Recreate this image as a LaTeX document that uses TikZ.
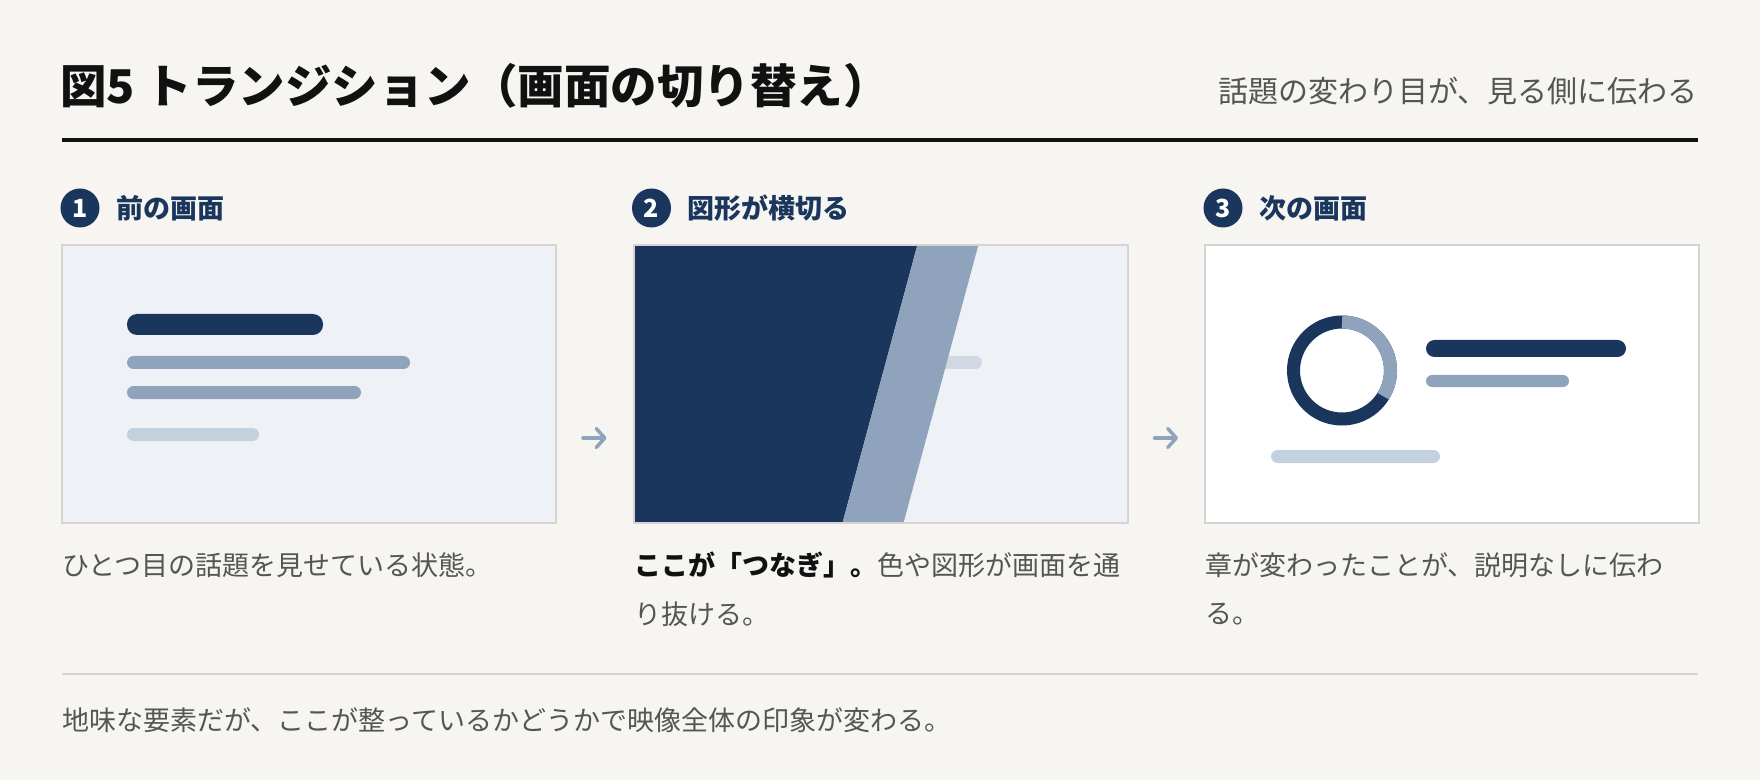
\documentclass[tikz,border=0pt]{standalone}
\usepackage{fontspec}
\setmainfont{Noto Sans CJK JP}
\usetikzlibrary{arrows.meta}
\definecolor{bg}{HTML}{F6F5F1}
\definecolor{navy}{HTML}{1B365D}
\definecolor{steel}{HTML}{8FA3BD}
\definecolor{pale}{HTML}{C3D1DF}
\definecolor{faint}{HTML}{CFD8E3}
\definecolor{panel}{HTML}{EEF1F6}
\definecolor{frame}{HTML}{D5D4CF}
\definecolor{ink}{HTML}{111111}
\definecolor{mute}{HTML}{555555}
\tikzset{
  screen/.style={draw=frame, line width=2pt, minimum width=494pt, minimum height=278pt, inner sep=0pt, outer sep=0pt, fill=panel},
  badge/.style={circle, fill=navy, minimum size=39pt, inner sep=0pt, text=white, font=\bfseries\fontsize{25}{25}\selectfont},
  headtext/.style={anchor=west, inner sep=0pt, text=navy, font=\bfseries\fontsize{27}{27}\selectfont},
  captext/.style={anchor=west, inner sep=0pt, text=mute, font=\fontsize{27}{27}\selectfont},
  flowarrow/.style={steel, line width=3.5pt, line cap=round, -{Straight Barb[length=8.5pt,width=19pt,round]}},
}
\begin{document}
\begin{tikzpicture}[x=1pt,y=1pt]
\useasboundingbox (0,0) rectangle (1760,780);
\fill[bg] (0,0) rectangle (1760,780);

% title and subtitle
\node[anchor=west, inner sep=0pt, text=ink, font=\bfseries\fontsize{46.5}{46.5}\selectfont] (title) at (60,694) {図5 トランジション（画面の切り替え）};
\node[anchor=east, inner sep=0pt, text=mute, font=\fontsize{30}{30}\selectfont] (sub) at (1698,688.5) {話題の変わり目が、見る側に伝わる};
\draw[ink, line width=4pt] (62,640.3) -- (1698,640.3);

% step headers
\node[badge] (b1) at (80,572) {1};
\node[headtext] (h1) at (116,572) {前の画面};
\node[badge] (b2) at (651.5,572) {2};
\node[headtext] (h2) at (687.5,572) {図形が横切る};
\node[badge] (b3) at (1223,572) {3};
\node[headtext] (h3) at (1259,572) {次の画面};

% screens
\node[screen] (s1) at (309,396) {};
\node[screen] (s2) at (880.5,396) {};
\node[screen, fill=white] (s3) at (1452,396) {};

% screen 1 content
\fill[navy, rounded corners=10pt] (127,445) rectangle (323,466);
\fill[steel, rounded corners=6.5pt] (127,411) rectangle (410,424);
\fill[steel, rounded corners=6.5pt] (127,381) rectangle (361,394);
\fill[pale, rounded corners=6.5pt] (127,339) rectangle (259,352);

% screen 2 content
\begin{scope}
  \clip (s2.south west) rectangle (s2.north east);
  \fill[faint, rounded corners=6.5pt] (699,411) rectangle (982,424);
  \fill[navy] (600,540) -- (918.7,540) -- (840.6,250) -- (600,250) -- cycle;
  \fill[steel] (918.7,540) -- (979.7,540) -- (901.6,250) -- (840.6,250) -- cycle;
\end{scope}
\draw[frame, line width=2pt] (s2.south west) rectangle (s2.north east);

% screen 3 content
\coordinate (dc) at (1342,409.5);
\draw[navy, line width=13pt] (dc) circle[radius=48.5];
\draw[steel, line width=13pt] ([shift={(90:48.5)}]dc) arc[start angle=90, end angle=-32, radius=48.5];
\fill[navy, rounded corners=8.5pt] (1426,423) rectangle (1626,440);
\fill[steel, rounded corners=6pt] (1426,393) rectangle (1569,405);
\fill[pale, rounded corners=6.5pt] (1271,317) rectangle (1440,330);

% arrows between screens
\draw[flowarrow] ([xshift=27pt,yshift=-54pt]s1.east) -- ([xshift=-27pt,yshift=-54pt]s2.west);
\draw[flowarrow] ([xshift=27pt,yshift=-54pt]s2.east) -- ([xshift=-27pt,yshift=-54pt]s3.west);

% captions
\node[captext] (c1) at (62,215) {ひとつ目の話題を見せている状態。};
\node[captext] (c2a) at (634,215) {{\bfseries\color{ink}ここが「つなぎ」。}色や図形が画面を通};
\node[captext] (c2b) at (634,166) {り抜ける。};
\node[captext] (c3a) at (1205,215) {章が変わったことが、説明なしに伝わ};
\node[captext] (c3b) at (1205,166) {る。};

% footer
\draw[frame, line width=2pt] (62,106) -- (1698,106);
\node[captext] (foot) at (62,60) {地味な要素だが、ここが整っているかどうかで映像全体の印象が変わる。};
\end{tikzpicture}
\end{document}
